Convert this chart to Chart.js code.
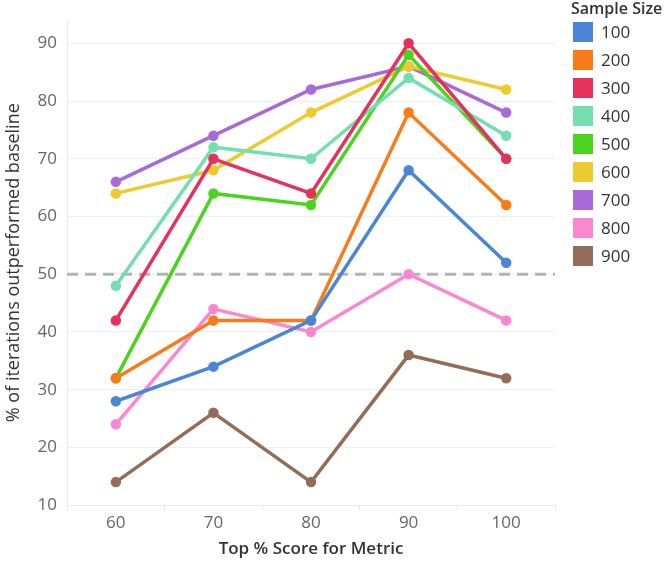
<!DOCTYPE html>
<html>
<head>
<meta charset="utf-8">
<style>
  html, body { margin: 0; padding: 0; background: #fff; }
  #wrap { width: 665px; height: 568px; }
</style>
</head>
<body>
<div id="wrap">
  <canvas id="myChart" width="665" height="568"></canvas>
</div>

<script src="https://cdn.jsdelivr.net/npm/chart.js"></script>

<script>
  // chart data
  const categories = ['60', '70', '80', '90', '100'];
  const sampleSizes = ['100', '200', '300', '400', '500', '600', '700', '800', '900'];
  const s100 = [28, 34, 42, 68, 52];
  const s200 = [32, 42, 42, 78, 62];
  const s300 = [42, 70, 64, 90, 70];
  const s400 = [48, 72, 70, 84, 74];
  const s500 = [32, 64, 62, 88, 70];
  const s600 = [64, 68, 78, 86, 82];
  const s700 = [66, 74, 82, 86, 78];
  const s800 = [24, 44, 40, 50, 42];
  const s900 = [14, 26, 14, 36, 32];
  const baseline = 50;
  const yTicks = [10, 20, 30, 40, 50, 60, 70, 80, 90];

  const colors = ['#4a86d8', '#f97a18', '#e6315c', '#74deb0', '#4ad41e',
                  '#edca2e', '#a86ad7', '#fc87d1', '#946d59'];
  const allSeries = [s100, s200, s300, s400, s500, s600, s700, s800, s900];

  const FONT = '"Open Sans", "Noto Sans", sans-serif';

  // dashed baseline, drawn under the lines
  const baselinePlugin = {
    id: 'baseline',
    beforeDatasetsDraw(chart) {
      const y = chart.scales.y.getPixelForValue(baseline);
      const area = chart.chartArea;
      const c = chart.ctx;
      c.save();
      c.strokeStyle = '#b0b5b3';
      c.lineWidth = 3;
      c.setLineDash([11, 7]);
      c.beginPath();
      c.moveTo(area.left, y);
      c.lineTo(area.right, y);
      c.stroke();
      c.restore();
    }
  };

  // legend on the right, square swatches under a title
  const sideLegend = {
    id: 'sideLegend',
    afterDraw(chart) {
      const c = chart.ctx;
      const x0 = chart.chartArea.right + 16;
      c.save();
      c.textBaseline = 'middle';
      c.textAlign = 'left';
      c.fillStyle = '#333';
      c.font = '600 16px ' + FONT;
      c.fillText('Sample Size', x0, 9);
      c.font = '17px ' + FONT;
      chart.data.datasets.forEach((ds, i) => {
        const y = 22 + i * 28;
        c.fillStyle = ds.borderColor;
        c.fillRect(x0 + 2, y, 20, 20);
        c.fillStyle = '#333';
        c.fillText(ds.label, x0 + 30, y + 11);
      });
      c.restore();
    }
  };

  const ctx = document.getElementById('myChart');
  new Chart(ctx, {
    type: 'line',
    data: {
      labels: categories,
      datasets: allSeries.map((d, i) => ({
        label: sampleSizes[i],
        data: d,
        borderColor: colors[i],
        backgroundColor: colors[i],
        pointBackgroundColor: colors[i],
        pointBorderColor: colors[i],
        borderWidth: 3.5,
        pointRadius: 3.5,
        tension: 0
      }))
    },
    plugins: [baselinePlugin, sideLegend],
    options: {
      responsive: false,
      animation: false,
      layout: { padding: { top: 20, left: 3, right: 110, bottom: 9 } },
      plugins: {
        tooltip: { enabled: false },
        legend: { display: false }
      },
      scales: {
        x: {
          offset: true,
          grid: {
            offset: true,
            drawOnChartArea: false,
            color: '#eaeaea',
            tickLength: 6
          },
          border: { color: '#eaeaea' },
          ticks: {
            color: '#666',
            font: { family: FONT, size: 17 },
            padding: 2
          },
          title: {
            display: true,
            text: 'Top % Score for Metric',
            color: '#333',
            font: { family: FONT, size: 17, weight: '600' },
            padding: { top: 3, bottom: 0 }
          }
        },
        y: {
          min: 10,
          max: 94,
          afterBuildTicks(scale) {
            scale.ticks = yTicks.map(v => ({ value: v }));
          },
          grid: { color: '#f0f0f0', drawTicks: false },
          border: { color: '#eaeaea' },
          ticks: {
            color: '#666',
            font: { family: FONT, size: 17 },
            padding: 10
          },
          title: {
            display: true,
            text: '% of iterations outperformed baseline',
            color: '#333',
            font: { family: FONT, size: 18 },
            padding: { top: 0, bottom: 3 }
          }
        }
      }
    }
  });
</script>
</body>
</html>
